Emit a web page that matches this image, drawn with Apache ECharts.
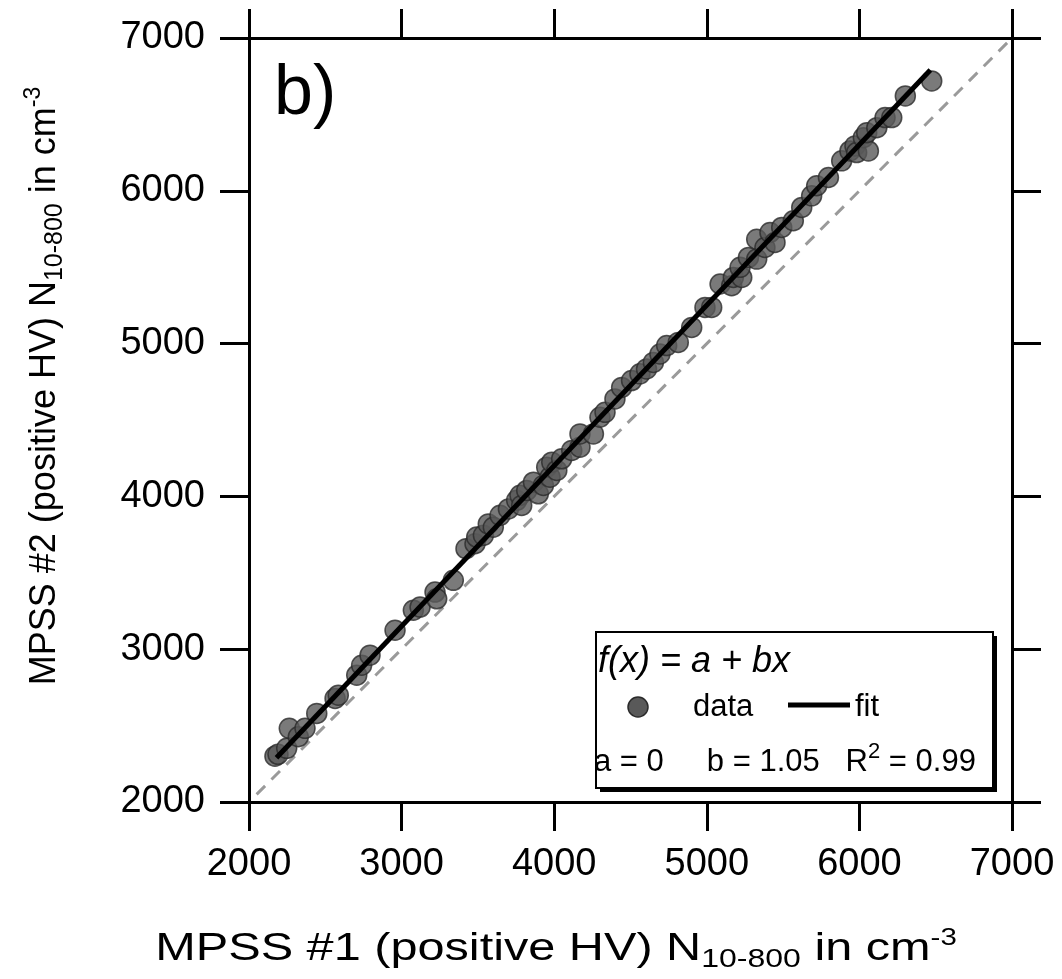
<!DOCTYPE html>
<html>
<head>
<meta charset="utf-8">
<script src="https://cdn.jsdelivr.net/npm/echarts@6/dist/echarts.min.js"></script>
<style>
  html, body { margin: 0; padding: 0; background: #fff; }
  #chart { width: 1062px; height: 979px; }
</style>
</head>
<body>
<div id="chart"></div>
<script>
// MPSS #1 vs MPSS #2 total number concentration (cm^-3)
var mpss1 = [
    2170, 2190, 2247, 2264, 2323, 2367, 2444, 2564, 2585, 2706, 2738, 2793, 2957,
    3077, 3121, 3219, 3230, 3339, 3422, 3481, 3492, 3536, 3568, 3601, 3645, 3700,
    3754, 3776, 3787, 3820, 3864, 3896, 3929, 3951, 3973, 3984, 4017, 4049, 4115,
    4169, 4169, 4257, 4300, 4333, 4398, 4442, 4507,
    4562, 4605, 4650, 4693, 4737, 4813, 4901, 4988, 5032, 5087, 5163, 5174, 5229,
    5218, 5273, 5327, 5327, 5381, 5414, 5447, 5491, 5567, 5622, 5687, 5720,
    5797, 5884, 5938, 5971, 5982, 6026, 6059, 6048, 6114, 6168, 6212, 6301, 6474
];
var mpss2 = [
    2300, 2312, 2351, 2482, 2427, 2482, 2580, 2678, 2699, 2830, 2895, 2961, 3124,
    3255, 3276, 3374, 3330, 3451, 3658, 3690, 3734, 3745, 3820, 3798, 3876, 3918,
    3974, 4007, 3941, 4039, 4093, 4017, 4072, 4191, 4126, 4224, 4170, 4246, 4301,
    4322, 4409, 4409, 4518, 4550, 4638, 4713, 4758,
    4802, 4834, 4877, 4932, 4987, 5008, 5106, 5237, 5237, 5390, 5379, 5433, 5433,
    5499, 5564, 5553, 5683, 5629, 5727, 5662, 5760, 5804, 5891, 5967, 6033,
    6087, 6196, 6261, 6294, 6250, 6348, 6261, 6380, 6413, 6479, 6479, 6621, 6719
];
// fit line f(x) = a + bx, a = 0, b = 1.05 (end points)
var fitX = [2180, 6465];
var fitY = [2290, 6790];
// 1:1 reference line
var oneX = [2050, 7000];
var oneY = [2050, 7000];

var axisMin = 2000, axisMax = 7000, axisStep = 1000;

var scatterData = mpss1.map(function (v, i) { return [v, mpss2[i]]; });
var fitData = fitX.map(function (v, i) { return [v, fitY[i]]; });
var oneData = oneX.map(function (v, i) { return [v, oneY[i]]; });

var FONT = '"Liberation Sans", Arial, sans-serif';

function frameAxis(pos, showLabel) {
    return {
        type: 'value',
        position: pos,
        min: axisMin, max: axisMax, interval: axisStep,
        splitLine: { show: false },
        axisLine: { show: true, onZero: false, lineStyle: { color: '#000', width: 3 } },
        axisTick: { show: true, inside: false, length: 29, lineStyle: { color: '#000', width: 3 } },
        axisLabel: {
            show: showLabel, margin: 44, color: '#000', fontSize: 38, fontFamily: FONT,
            formatter: function (v) { return String(v); }
        }
    };
}

function titleRich(size) {
    return {
        t: { fontSize: size, fontFamily: FONT, color: '#000' },
        sub: { fontSize: 25, fontFamily: FONT, color: '#000', verticalAlign: 'bottom', padding: [14, 0, 0, 0] },
        sup: { fontSize: 23, fontFamily: FONT, color: '#000', verticalAlign: 'top', padding: [0, 0, 22, 0] }
    };
}
var titleText = '{t|MPSS #NUM (positive HV) N}{sub|10-800}{t| in cm}{sup|-3}';

var myChart = echarts.init(document.getElementById('chart'), null, { renderer: 'canvas' });
var option = {
    animation: false,
    backgroundColor: '#fff',
    grid: { left: 249, top: 38, width: 763, height: 764 },
    xAxis: [frameAxis('bottom', true), frameAxis('top', false)],
    yAxis: [frameAxis('left', true), frameAxis('right', false)],
    series: [
        {
            name: '1:1',
            type: 'line',
            data: oneData,
            symbol: 'none',
            silent: true,
            lineStyle: { color: '#9a9a9a', width: 3, type: [12, 9] },
            z: 1
        },
        {
            name: 'data',
            type: 'scatter',
            data: scatterData,
            symbol: 'circle',
            symbolSize: 20,
            itemStyle: { color: '#595959', borderColor: '#2a2a2a', borderWidth: 1.5 },
            z: 2
        },
        {
            name: 'fit',
            type: 'line',
            data: fitData,
            symbol: 'none',
            lineStyle: { color: '#000', width: 5 },
            z: 3
        }
    ],
    graphic: [
        {
            type: 'text', left: 274, top: 60, z: 10,
            style: { text: 'b)', font: '70px ' + FONT, fill: '#000' }
        },
        {
            type: 'text', x: 556, y: 950, scaleX: 1.28, z: 10,
            style: {
                text: titleText.replace('NUM', '1'), rich: titleRich(38),
                align: 'center', verticalAlign: 'middle'
            }
        },
        {
            type: 'text', x: 45, y: 386, rotation: Math.PI / 2, z: 10,
            style: {
                text: titleText.replace('NUM', '2'), rich: titleRich(36),
                align: 'center', verticalAlign: 'middle'
            }
        },
        // legend box with shadow
        {
            type: 'rect', shape: { x: 600, y: 636, width: 397, height: 156 }, z: 10,
            style: { fill: '#000' }
        },
        {
            type: 'rect', shape: { x: 596, y: 632, width: 397, height: 156 }, z: 11,
            style: { fill: '#fff', stroke: '#000', lineWidth: 2 }
        },
        {
            type: 'text', x: 598, y: 662, z: 12,
            style: { text: 'f(x) = a + bx', font: 'italic 36px ' + FONT, fill: '#000', verticalAlign: 'middle' }
        },
        {
            type: 'circle', shape: { cx: 638, cy: 707, r: 10 }, z: 12,
            style: { fill: '#595959', stroke: '#2a2a2a', lineWidth: 1.5 }
        },
        {
            type: 'text', x: 693, y: 707, z: 12,
            style: { text: 'data', font: '31px ' + FONT, fill: '#000', verticalAlign: 'middle' }
        },
        {
            type: 'line', shape: { x1: 788, y1: 705, x2: 850, y2: 705 }, z: 12,
            style: { stroke: '#000', lineWidth: 5 }
        },
        {
            type: 'text', x: 855, y: 707, z: 12,
            style: { text: 'fit', font: '31px ' + FONT, fill: '#000', verticalAlign: 'middle' }
        },
        {
            type: 'text', x: 594, y: 762, z: 12,
            style: {
                text: '{t|a = 0     b = 1.05   R}{s|2}{t| = 0.99}',
                verticalAlign: 'middle',
                rich: {
                    t: { fontSize: 31, fontFamily: FONT, color: '#000' },
                    s: { fontSize: 22, fontFamily: FONT, color: '#000', verticalAlign: 'top', padding: [0, 0, 20, 0] }
                }
            }
        }
    ]
};
myChart.setOption(option);
</script>
</body>
</html>
